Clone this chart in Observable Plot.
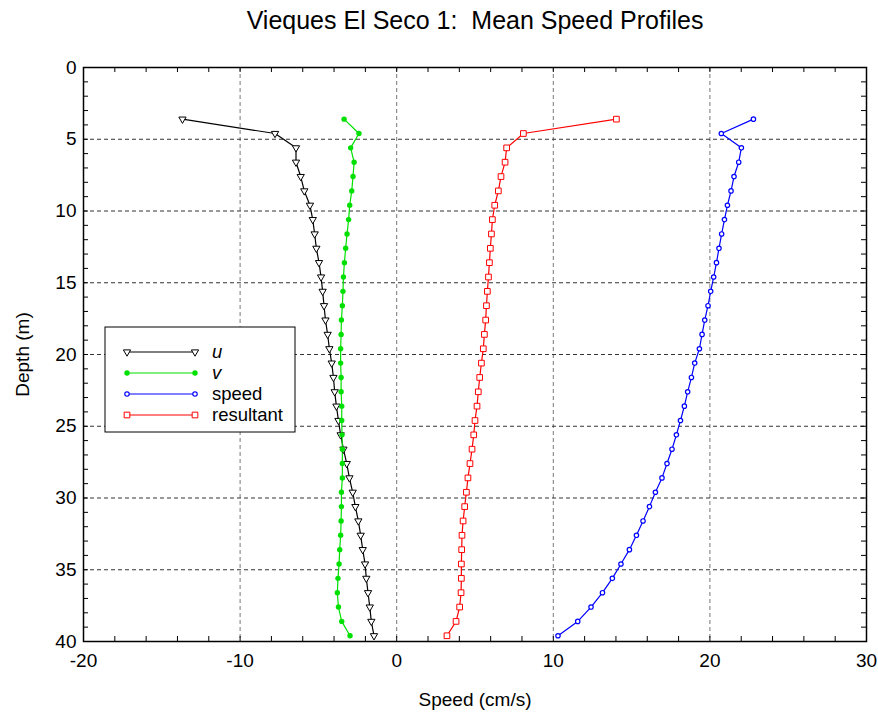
<!DOCTYPE html>
<html><head><meta charset="utf-8">
<script src="https://cdn.jsdelivr.net/npm/d3@7"></script>
<script src="https://cdn.jsdelivr.net/npm/@observablehq/plot@0.6"></script>
<style>
html,body{margin:0;padding:0;background:#fff;}
svg text{white-space:pre;}
</style></head><body><div id="chart"></div>
<script>
// ---- data ----
const depth = [3.6,4.6,5.6,6.6,7.6,8.6,9.6,10.6,11.6,12.6,13.6,14.6,15.6,16.6,17.6,18.6,19.6,20.6,21.6,22.6,23.6,24.6,25.6,26.6,27.6,28.6,29.6,30.6,31.6,32.6,33.6,34.6,35.6,36.6,37.6,38.6,39.6];
const uVals = [-13.68,-7.77,-6.43,-6.43,-6.13,-5.90,-5.54,-5.36,-5.24,-5.13,-4.96,-4.83,
  -4.73,-4.64,-4.55,-4.41,-4.30,-4.15,-4.04,-3.96,-3.85,-3.72,-3.58,
  -3.40,-3.19,-3.02,-2.81,-2.64,-2.45,-2.30,-2.17,-2.02,-1.94,-1.83,-1.72,-1.62,-1.45];
const vVals = [-3.36,-2.41,-2.94,-2.72,-2.79,-2.87,-3.00,-3.07,-3.17,-3.26,-3.34,-3.40,
  -3.43,-3.47,-3.53,-3.55,-3.58,-3.58,-3.55,-3.55,-3.51,-3.51,-3.49,
  -3.47,-3.47,-3.47,-3.53,-3.53,-3.55,-3.58,-3.64,-3.68,-3.75,-3.79,-3.72,-3.51,-2.98];
const speedVals = [22.78,20.73,22.01,21.84,21.54,21.35,21.12,20.93,20.75,20.58,20.42,20.24,
  20.05,19.88,19.67,19.50,19.33,19.03,18.82,18.58,18.37,18.12,17.86,
  17.58,17.26,16.94,16.52,16.14,15.73,15.31,14.86,14.32,13.77,13.14,12.41,11.56,10.30];
const resultantVals = [14.03,8.09,7.02,6.92,6.66,6.49,6.26,6.11,6.05,5.98,5.92,5.86,
  5.79,5.73,5.68,5.60,5.53,5.41,5.30,5.21,5.13,5.00,4.92,
  4.81,4.68,4.55,4.45,4.34,4.24,4.17,4.15,4.13,4.13,4.11,4.02,3.79,3.21];

const seriesNames = ["u","v","speed","resultant"];
const xTicks = [-20,-10,0,10,20,30];
const yTicks = [0,5,10,15,20,25,30,35,40];
const xGrid = [-10,0,10,20];
const yGrid = [5,10,15,20,25,30,35];
const xMinor = d3.range(-20, 30.001, 2);
const yMinor = d3.range(0, 40.001, 1);

const titleText = "Vieques El Seco 1:  Mean Speed Profiles";
const xLabel = "Speed (cm/s)";
const yLabel = "Depth (m)";

// ---- style ----
const W = 878, H = 715;
const mL = 83, mR = 12, mT = 67, mB = 74;
const fw = W - mL - mR, fh = H - mT - mB;
const FONT = "'Liberation Sans', Arial, Helvetica, sans-serif";
const colors = {u: "#000000", v: "#00e000", speed: "#0000ff", resultant: "#ff0000"};
const tickLen = 5;

const rows = depth.map((d, i) => ({depth: d, u: uVals[i], v: vVals[i], speed: speedVals[i], resultant: resultantVals[i]}));

const chart = Plot.plot({
  width: W, height: H,
  marginLeft: mL, marginRight: mR, marginTop: mT, marginBottom: mB,
  style: {fontFamily: FONT, background: "#fff", color: "#000"},
  x: {domain: [-20, 30]},
  y: {domain: [0, 40], reverse: true},
  marks: [
    // grid
    Plot.ruleX(xGrid, {stroke: "#777", strokeDasharray: "4,3", strokeWidth: 1}),
    Plot.ruleY(yGrid, {stroke: "#333", strokeDasharray: "4,3", strokeWidth: 1}),
    // inward ticks on all four sides
    Plot.ruleX(xMinor, {insetTop: fh - tickLen, stroke: "black"}),
    Plot.ruleX(xMinor, {insetBottom: fh - tickLen, stroke: "black"}),
    Plot.ruleY(yMinor, {insetRight: fw - tickLen, stroke: "black"}),
    Plot.ruleY(yMinor, {insetLeft: fw - tickLen, stroke: "black"}),
    // axes labels
    Plot.axisX({ticks: xTicks, tickSize: 0, tickPadding: 12, fontSize: 19, label: null, tickFormat: d => String(d)}),
    Plot.axisY({ticks: yTicks, tickSize: 0, tickPadding: 7, fontSize: 19, label: null, tickFormat: d => String(d)}),
    // series lines
    Plot.line(rows, {x: "u", y: "depth", stroke: colors.u, strokeWidth: 1.2}),
    Plot.line(rows, {x: "v", y: "depth", stroke: colors.v, strokeWidth: 1.2}),
    Plot.line(rows, {x: "speed", y: "depth", stroke: colors.speed, strokeWidth: 1.2}),
    Plot.line(rows, {x: "resultant", y: "depth", stroke: colors.resultant, strokeWidth: 1.2}),
    // markers
    Plot.dot(rows, {x: "u", y: "depth", symbol: "triangle", rotate: 180, r: 2.7, stroke: colors.u, fill: "white", strokeWidth: 1}),
    Plot.dot(rows, {x: "v", y: "depth", symbol: "circle", r: 2.7, fill: colors.v, stroke: "none"}),
    Plot.dot(rows, {x: "speed", y: "depth", symbol: "circle", r: 2.2, stroke: colors.speed, fill: "white", strokeWidth: 1.2}),
    Plot.dot(rows, {x: "resultant", y: "depth", symbol: "square", r: 3.2, stroke: colors.resultant, fill: "white", strokeWidth: 1}),
    // frame
    Plot.frame({stroke: "black", strokeWidth: 1.5}),
    // title and axis titles
    Plot.text([titleText], {frameAnchor: "top", lineAnchor: "middle", textAnchor: "middle", dy: -47, fontSize: 25, fill: "black"}),
    Plot.text([xLabel], {frameAnchor: "bottom", lineAnchor: "middle", textAnchor: "middle", dy: 58, fontSize: 19, fill: "black"}),
    Plot.text([yLabel], {frameAnchor: "left", lineAnchor: "middle", textAnchor: "middle", dx: -61, rotate: -90, fontSize: 19, fill: "black"})
  ]
});

document.getElementById("chart").appendChild(chart);

// ---- legend (drawn into the same SVG) ----
const svg = d3.select(chart);
const lg = svg.append("g").attr("font-family", FONT).attr("font-size", 18.5).attr("text-anchor", "start");
const box = {x: 105, y: 327, w: 190, h: 105};
lg.append("rect").attr("x", box.x).attr("y", box.y).attr("width", box.w).attr("height", box.h)
  .attr("fill", "white").attr("stroke", "black").attr("stroke-width", 1);
const rowY = [352, 373, 394, 415];
const lx1 = 127, lx2 = 195, tx = 212;
const symDefs = {
  u: {type: d3.symbolTriangle, r: 2.7, fill: "white", stroke: colors.u, rot: 180, sw: 1},
  v: {type: d3.symbolCircle, r: 2.7, fill: colors.v, stroke: "none", rot: 0, sw: 0},
  speed: {type: d3.symbolCircle, r: 2.2, fill: "white", stroke: colors.speed, rot: 0, sw: 1.2},
  resultant: {type: d3.symbolSquare, r: 3.2, fill: "white", stroke: colors.resultant, rot: 0, sw: 1}
};
seriesNames.forEach((name, i) => {
  const y = rowY[i];
  const s = symDefs[name];
  lg.append("line").attr("x1", lx1).attr("x2", lx2).attr("y1", y).attr("y2", y)
    .attr("stroke", colors[name]).attr("stroke-width", 1.2);
  const path = d3.symbol(s.type, Math.PI * s.r * s.r)();
  [lx1, lx2].forEach(x => {
    lg.append("path").attr("d", path)
      .attr("transform", `translate(${x},${y}) rotate(${s.rot})`)
      .attr("fill", s.fill).attr("stroke", s.stroke).attr("stroke-width", s.sw);
  });
  lg.append("text").attr("x", tx).attr("y", y).attr("dy", "0.35em")
    .attr("text-anchor", "start")
    .attr("font-style", (name === "u" || name === "v") ? "italic" : "normal")
    .attr("fill", "black").text(name);
});
</script>
</body></html>
